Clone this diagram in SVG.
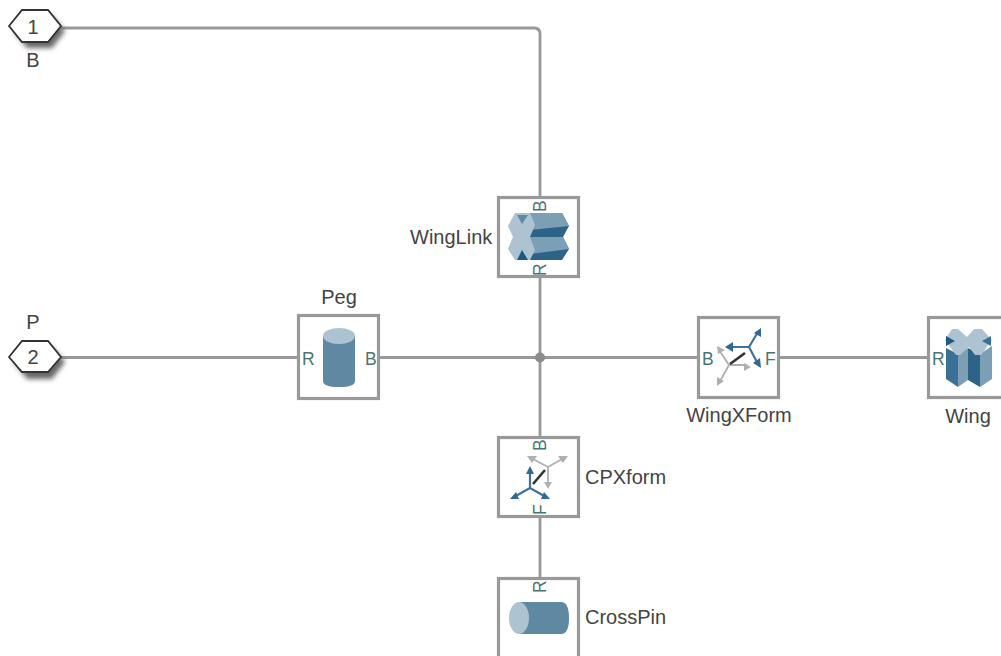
<svg xmlns="http://www.w3.org/2000/svg" width="1001" height="656" viewBox="0 0 1001 656">
<style>
text{font-family:"Liberation Sans",Arial,sans-serif;font-size:20px;fill:#444}
.c{text-anchor:middle}
.port{font-size:17.500px;fill:#4a7474}
.wire{fill:none;stroke:#999;stroke-width:2.800}
.box{fill:#fff;stroke:#999;stroke-width:3.200}
.hex{fill:#fff;stroke:#333;stroke-width:1.800}
.sh{fill:#666;filter:url(#b)}
.ga{stroke:#b0b0b0;stroke-width:1.800;fill:none}
.ba{stroke:#3f739b;stroke-width:2.200;fill:none}
.gh{fill:#b0b0b0}
.bh{fill:#2f6a94}
</style>
<defs>
<filter id="b" x="-20%" y="-20%" width="140%" height="150%"><feGaussianBlur stdDeviation="2.500"/></filter>
<filter id="s" x="-5%" y="-5%" width="110%" height="110%"><feGaussianBlur stdDeviation="0.500"/></filter>
</defs>
<rect width="1001" height="656" fill="#fff"/>
<g id="connectors">
<path class="wire" d="M61 28H534Q540 28 540 34V197"/>
<path class="wire" d="M540 277V437"/>
<path class="wire" d="M540 517V578"/>
<path class="wire" d="M61 357.500H298"/>
<path class="wire" d="M379 357.500H698"/>
<path class="wire" d="M779 357.500H928"/>
<circle cx="540" cy="357.500" r="5" fill="#8c8c8c"/>
</g>
<g id="port1">
<polygon class="sh" points="14,31 27,16 52,16 65,31 52,48 27,48"/>
<polygon class="hex" points="9,26 22,10 48,10 61,26 48,42 22,42"/>
<text class="c" x="33" y="34">1</text>
<text class="c" x="33" y="67">B</text>
</g>
<g id="port2">
<polygon class="sh" points="14,362 27,347 52,347 65,362 52,379 27,379"/>
<polygon class="hex" points="9,357 22,341 48,341 61,357 48,372 22,372"/>
<text class="c" x="33" y="364">2</text>
<text class="c" x="33" y="329">P</text>
</g>
<g id="Peg">
<rect class="box" x="298.500" y="315.500" width="80" height="83"/>
<g filter="url(#s)">
<path d="M323 336V381Q323 387 339 387Q355 387 355 381V336Z" fill="#5f88a3"/>
<ellipse cx="339" cy="336" rx="16" ry="8" fill="#aec3d1"/>
</g>
<text class="port" x="302" y="365">R</text>
<text class="port" x="365" y="365">B</text>
<text class="c" x="339" y="304">Peg</text>
</g>
<g id="WingLink">
<rect class="box" x="498.500" y="197.500" width="80" height="79"/>
<g filter="url(#s)">
<polygon points="530,213 562,213 569,226 563,237 569,249 562,260 530,260" fill="#2f6488"/>
<polygon points="530,213 562,213 569,226 530,230" fill="#7b9fb6"/>
<polygon points="530,237 563,237 569,249 530,254" fill="#7b9fb6"/>
<polygon points="515,213 530,213 535,225 530,237 535,250 530,260 515,260 508,249 513,237 508,226" fill="#aec3d1"/>
<polygon points="517,215 528,215 522,224" fill="#5f88a3"/>
<polygon points="517,260 528,260 522,250" fill="#1f5a86"/>
</g>
<text class="port" transform="translate(546 212) rotate(-90)">B</text>
<text class="port" transform="translate(546 276) rotate(-90)">R</text>
<text x="410" y="244">WingLink</text>
</g>
<g id="WingXForm">
<rect class="box" x="698.500" y="317.500" width="80" height="80"/>
<g filter="url(#s)">
<path class="ga" d="M729 365L719 350M729 365L719 383M729 365H747"/>
<polygon class="gh" points="717,346 725,350 718,354"/>
<polygon class="gh" points="717,386 717,377 724,381"/>
<polygon class="gh" points="751,367 744,363 744,371"/>
<path class="ba" d="M749 347H730M749 347L758 332M749 347L758 364"/>
<polygon class="bh" points="725,347 733,342 733,352"/>
<polygon class="bh" points="761,328 761,337 754,333"/>
<polygon class="bh" points="761,368 753,363 760,358"/>
<path d="M730 364L745 353" stroke="#333" stroke-width="2.600"/>
</g>
<text class="port" x="702" y="365">B</text>
<text class="port" x="765" y="365">F</text>
<text class="c" x="739" y="422">WingXForm</text>
</g>
<g id="Wing">
<rect class="box" x="928.500" y="317.500" width="90" height="80"/>
<g filter="url(#s)">
<polygon points="946,348 958,354 958,387 946,379" fill="#3a6f96"/>
<polygon points="958,354 968,348 968,380 958,387" fill="#7b9fb6"/>
<polygon points="968,348 980,354 980,387 968,380" fill="#2f6488"/>
<polygon points="980,354 992,346 992,379 980,387" fill="#7b9fb6"/>
<polygon points="945,340 952,329 958,329 967,337 974,329 982,329 992,340 981,355 975,355 969,347 960,355 956,355" fill="#aec3d1"/>
<polygon points="946,336 955,341 946,346" fill="#1f5a86"/>
<polygon points="991,336 982,341 991,346" fill="#3a6f96"/>
</g>
<text class="port" x="932" y="365">R</text>
<text class="c" x="968" y="423">Wing</text>
</g>
<g id="CPXform">
<rect class="box" x="498.500" y="437.500" width="80" height="79"/>
<g filter="url(#s)">
<path class="ga" d="M548 467L531 458M548 467L564 458M548 467V485"/>
<polygon class="gh" points="527,456 537,456 532,463"/>
<polygon class="gh" points="568,456 558,456 563,463"/>
<polygon class="gh" points="548,489 544,482 552,482"/>
<path class="ba" d="M530 488V470M530 488L514 497M530 488L546 497"/>
<polygon class="bh" points="530,466 526,474 534,474"/>
<polygon class="bh" points="510,499 519,499 516,492"/>
<polygon class="bh" points="550,499 541,499 544,492"/>
<path d="M533 484L545 470" stroke="#333" stroke-width="2.600"/>
</g>
<text class="port" transform="translate(546 451) rotate(-90)">B</text>
<text class="port" transform="translate(546 515) rotate(-90)">F</text>
<text x="585" y="484">CPXform</text>
</g>
<g id="CrossPin">
<rect class="box" x="498.500" y="578.500" width="80" height="90"/>
<g filter="url(#s)">
<path d="M520 602H561Q569 602 569 618Q569 634 561 634H520Z" fill="#5f88a3"/>
<ellipse cx="519" cy="618" rx="10" ry="16" fill="#aec3d1"/>
</g>
<text class="port" transform="translate(546 593) rotate(-90)">R</text>
<text x="585" y="624">CrossPin</text>
</g>
</svg>
